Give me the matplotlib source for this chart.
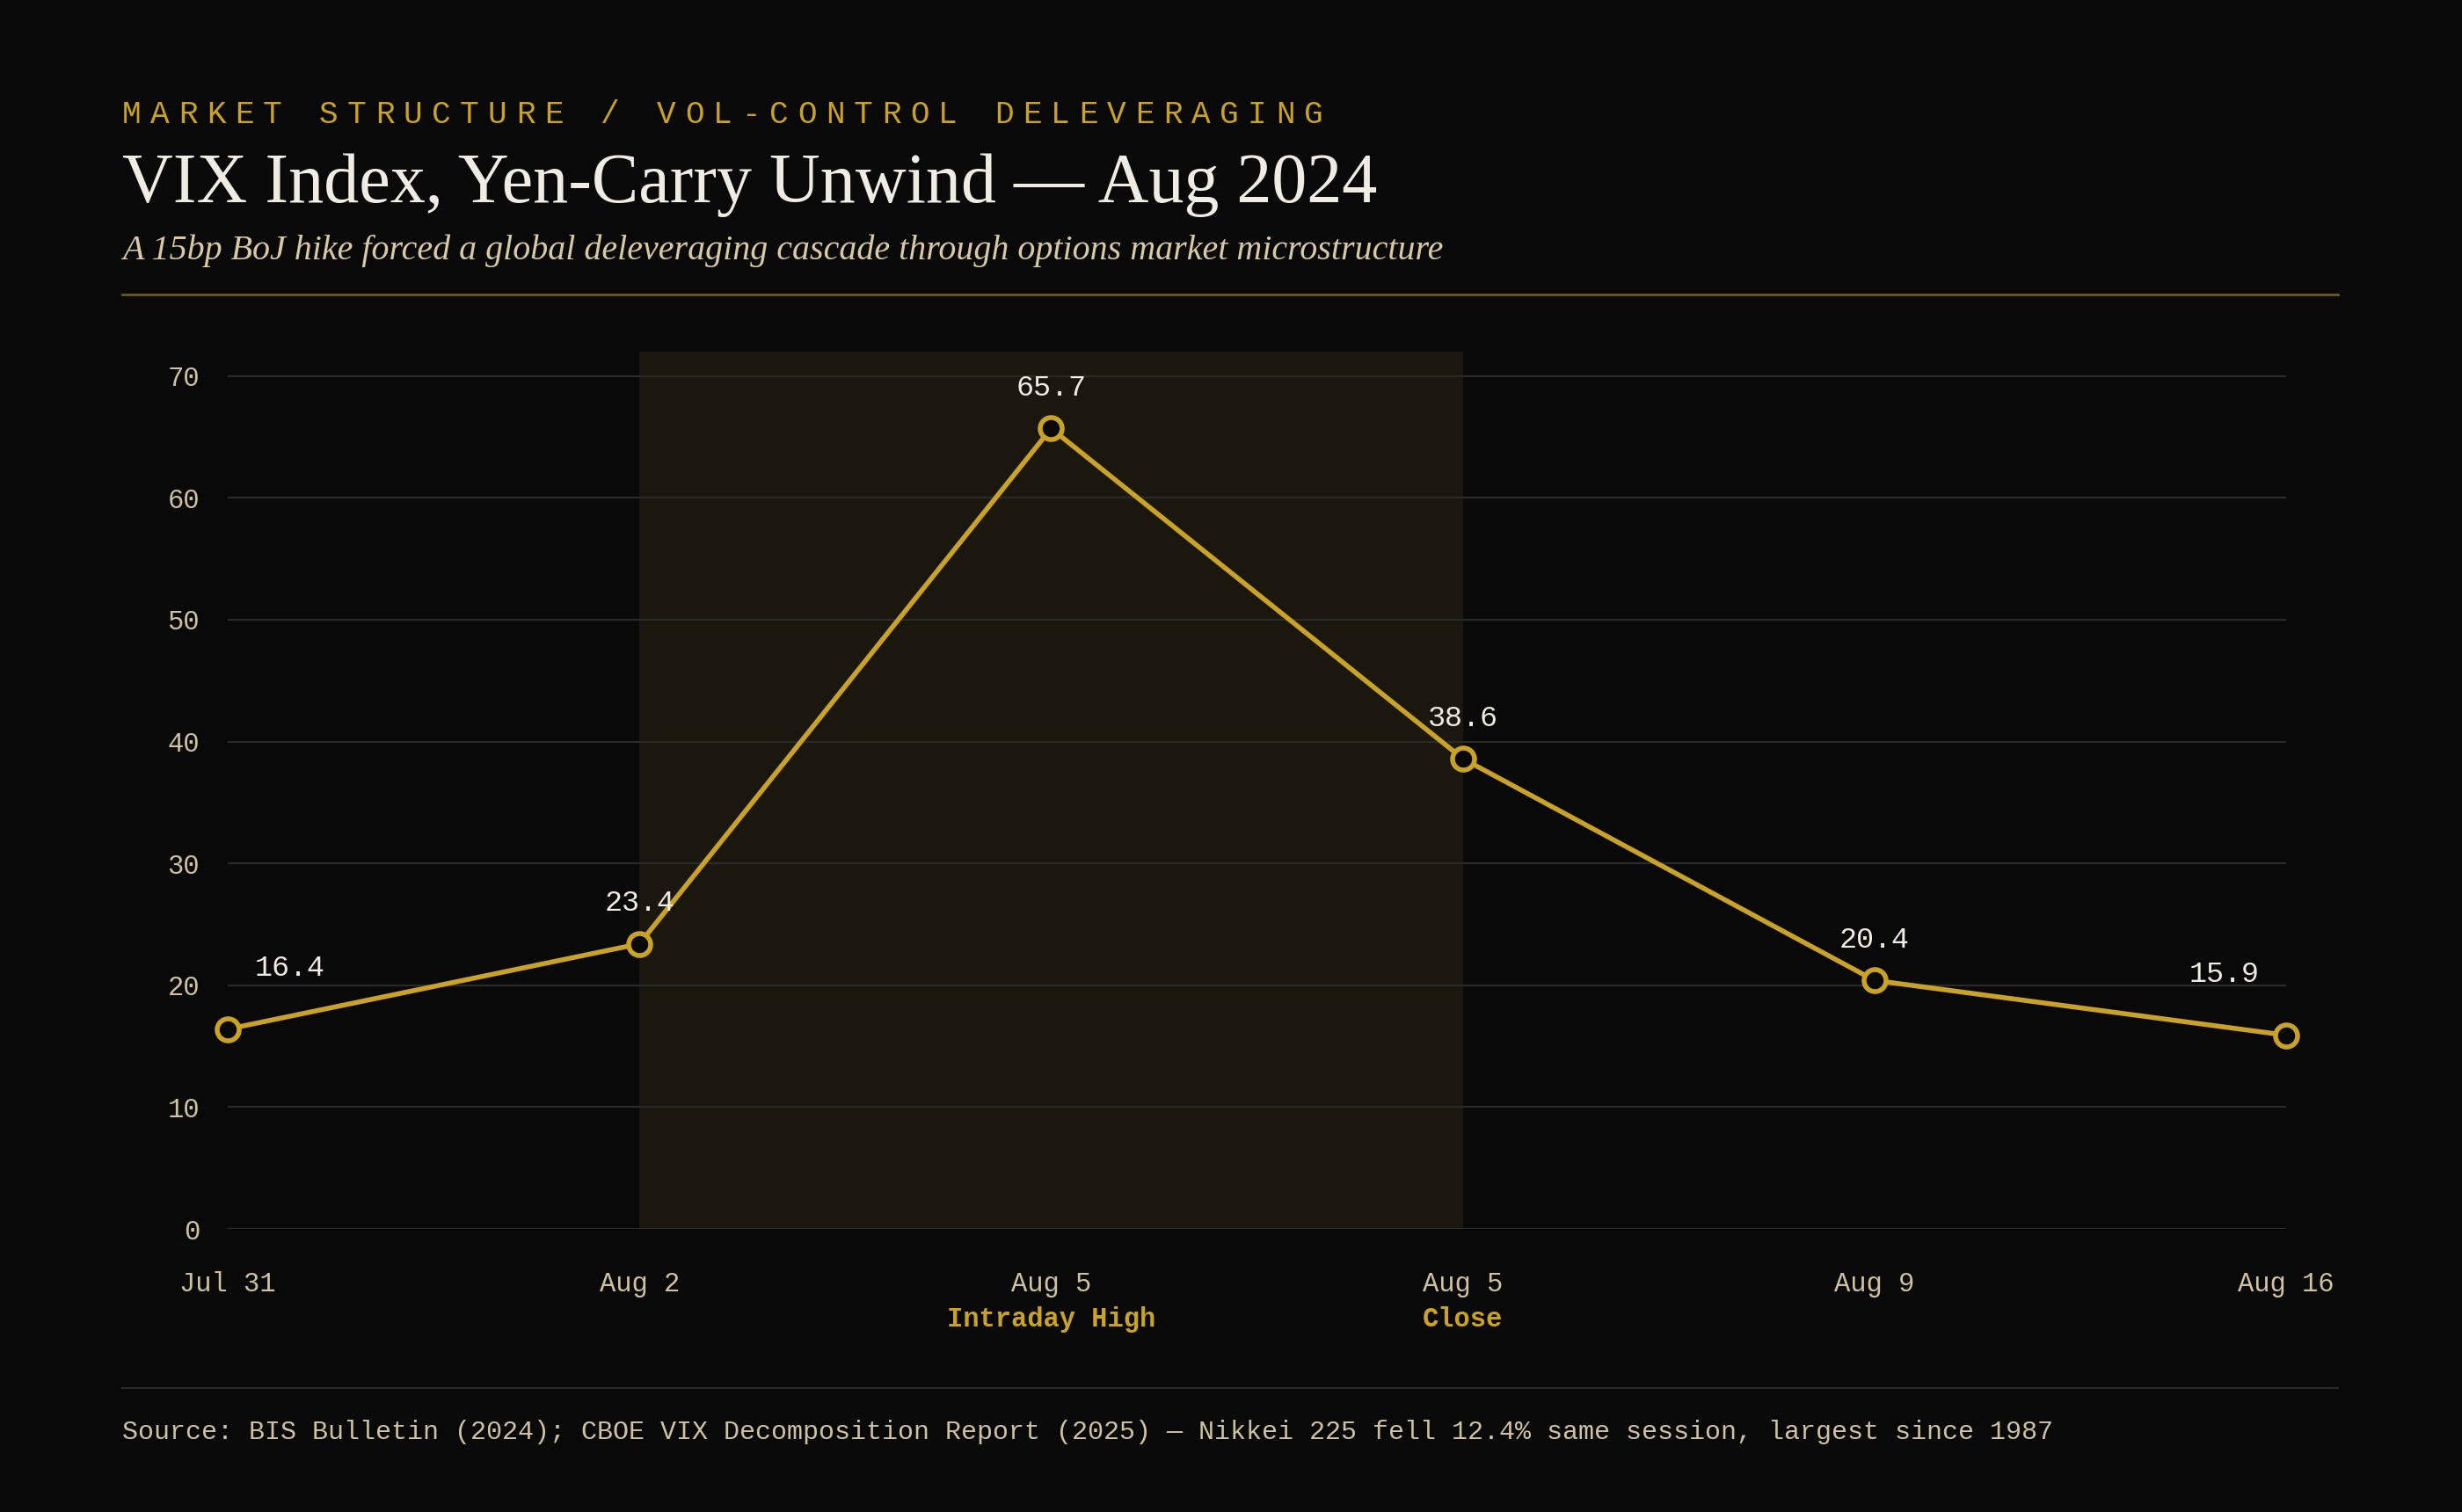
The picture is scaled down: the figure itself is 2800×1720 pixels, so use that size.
import matplotlib
matplotlib.use("Agg")
import matplotlib.pyplot as plt

# data
dates = ["Jul 31", "Aug 2", "Aug 5", "Aug 5", "Aug 9", "Aug 16"]
notes = ["", "", "Intraday High", "Close", "", ""]
vix = [16.4, 23.4, 65.7, 38.6, 20.4, 15.9]
shock_window = (1, 3)
yticks = [0, 10, 20, 30, 40, 50, 60, 70]

BG = "#090909"
GOLD = "#c9a227"
BEIGE = "#cfc2a2"
WHITE = "#f0ece2"
MONO = "Liberation Mono"
SERIF = "Liberation Serif"

fig = plt.figure(figsize=(28, 17.2), dpi=100, facecolor=BG)
ax = fig.add_axes([0.0925, 0.1872, 0.8361, 0.5802])
ax.set_facecolor(BG)

x = list(range(len(vix)))
ax.axvspan(*shock_window, color="#1a170f", zorder=0.2, lw=0)
ax.plot(x, vix, color=GOLD, lw=4, marker="o", ms=18, mfc=BG, mec=GOLD,
        mew=4, zorder=3, solid_joinstyle="round", clip_on=False)

# value labels
for i, v in enumerate(vix):
    if i == 0:
        off, ha = (22, 50), "left"
    elif i == len(vix) - 1:
        off, ha = (-22, 50), "right"
    else:
        off, ha = (0, 33), "center"
    ax.annotate(f"{v:.1f}", (i, v), xytext=off, textcoords="offset points",
                ha=ha, va="center", fontsize=24, color=WHITE, family=MONO,
                zorder=4)

ax.set_xlim(0, len(vix) - 1)
ax.set_ylim(0, 72)
ax.set_yticks(yticks)
ax.set_yticklabels([str(t) for t in yticks], family=MONO, fontsize=22, color=BEIGE)
ax.set_xticks(x)
ax.set_xticklabels(dates, family=MONO, fontsize=22, color=BEIGE, va="center")
ax.tick_params(axis="x", length=0, pad=45)
ax.tick_params(axis="y", length=0, pad=23)
for i, n in enumerate(notes):
    if n:
        ax.annotate(n, (i, 0), xycoords=("data", "axes fraction"),
                    xytext=(0, -74.5), textcoords="offset points", ha="center",
                    va="center", fontsize=22, fontweight="bold", color=GOLD,
                    family=MONO)

ax.grid(axis="y", color="#2a2a2a", lw=1.6, zorder=0.5)
ax.grid(axis="x", visible=False)
for s in ax.spines.values():
    s.set_visible(False)

# header
kicker = "MARKET STRUCTURE / VOL-CONTROL DELEVERAGING"
step = 32.0 / 2800
for k, ch in enumerate(kicker):
    fig.text(0.0496 + k * step, 0.9186, ch, fontsize=26, color=GOLD, family=MONO,
             va="baseline", ha="left")
fig.text(0.0496, 0.8663, "VIX Index, Yen-Carry Unwind \u2014 Aug 2024", fontsize=57.6,
         color="#efece4", family=SERIF, va="baseline")
fig.text(0.0496, 0.8285,
         "A 15bp BoJ hike forced a global deleveraging cascade through options market microstructure",
         fontsize=28.8, color="#d8c9a6", family=SERIF, style="italic", va="baseline")
fig.add_artist(plt.Line2D([0.0496, 0.9497], [0.8052, 0.8052], color="#6b5a1f", lw=2))

# footer
fig.add_artist(plt.Line2D([0.0496, 0.9497], [0.082, 0.082], color="#2a2a2a", lw=1.5))
fig.text(0.0496, 0.0483,
         "Source: BIS Bulletin (2024); CBOE VIX Decomposition Report (2025) \u2014 "
         "Nikkei 225 fell 12.4% same session, largest since 1987",
         fontsize=21.65, color=BEIGE, family=MONO, va="baseline")

fig.savefig("out.png", dpi=100, facecolor=BG)
